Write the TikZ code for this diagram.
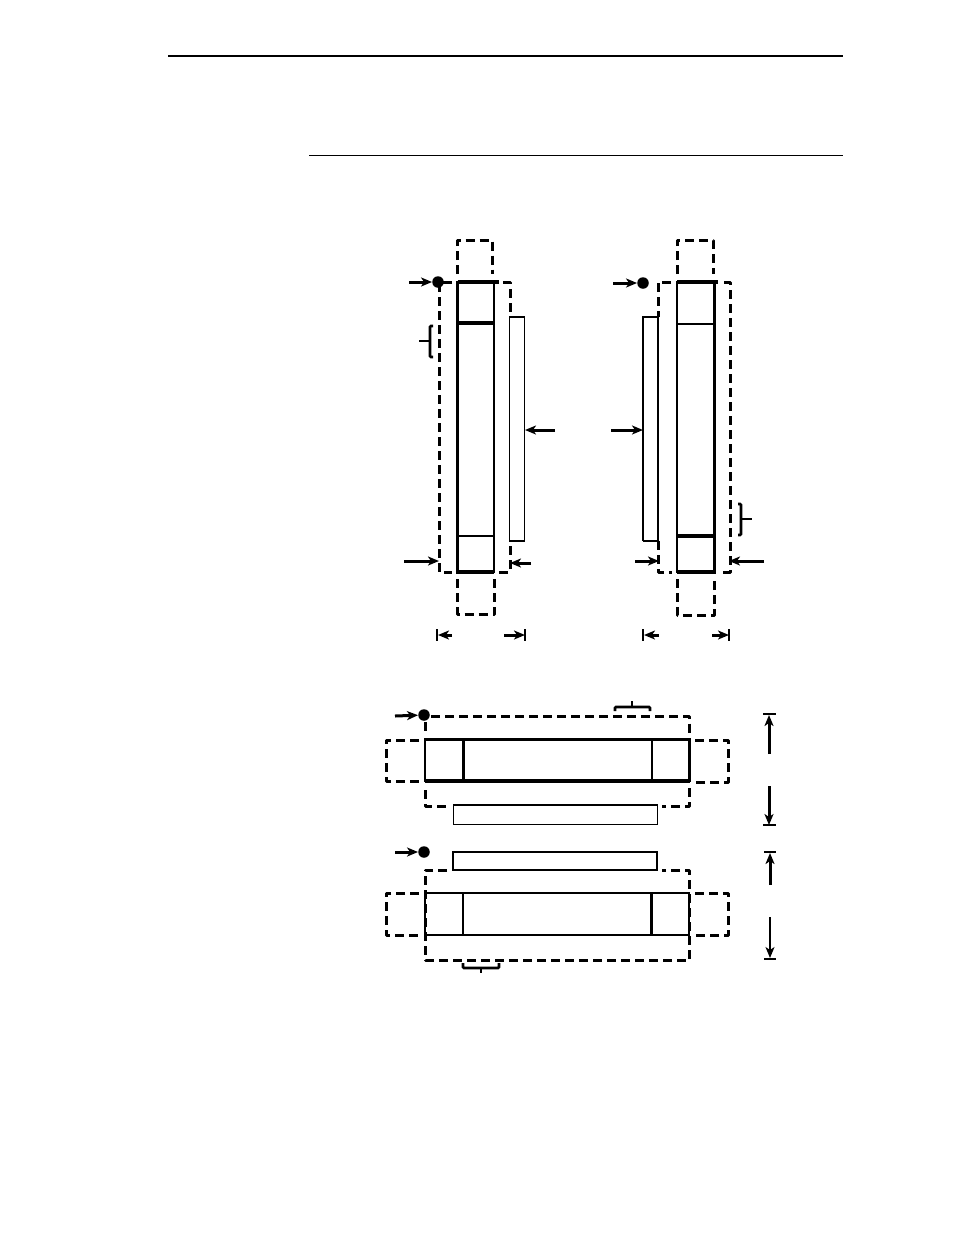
\documentclass[tikz,border=0pt]{standalone}
\usetikzlibrary{arrows.meta}
\tikzset{
  hair/.style={line width=1.3pt},
  med/.style={line width=2.5pt},
  heavy/.style={line width=3.3pt},
  dash box/.style={line width=3pt,dash pattern=on 9pt off 5pt,line join=round},
  callout/.style={line width=3pt,-{Stealth[length=11pt,width=9pt,inset=3pt]}},
  datum/.style={circle,fill=black,inner sep=0pt,minimum size=11.5pt},
  brace line/.style={line width=2.6pt,rounded corners=1pt},
}
\begin{document}
\begin{tikzpicture}[x=1pt,y=-1pt]
\useasboundingbox (0,0) rectangle (954,1235);
\fill[white] (0,0) rectangle (954,1235);
% header rules
\draw[line width=2pt] (168,56) -- (843,56);
\draw[line width=1pt] (309,155.5) -- (842.5,155.5);

% ---------- upper left figure ----------
\draw[dash box] (457.5,274) -- (457.5,240) -- (492,240) -- (492,274);
\draw[dash box] (457.5,579) -- (457.5,614) -- (494,614) -- (494,579);
\draw[dash box] (452,282) -- (439,282) -- (439,572) -- (452,572);
\draw[dash box] (503,282) -- (510,282) -- (510,317);
\draw[dash box] (510,546) -- (510,572) -- (499,572);
\draw[hair] (509.5,317) rectangle (524.5,541);
\draw[heavy] (457.5,280.5) -- (457.5,573.5);
\draw[med] (494,281) -- (494,573);
\draw[heavy] (457.5,282) -- (499,282);
\draw[heavy] (457.5,572) -- (494,572);
\draw[heavy] (457.5,323) -- (494,323);
\draw[med] (457.5,536) -- (494,536);
\node[datum] (dotA) at (438,282) {};
\coordinate (a1) at (409,282);
\draw[callout] (a1) -- (dotA);
\draw[brace line] (419,341) -- (430,341);
\draw[brace line] (433,326) -- (430,326) -- (430,357) -- (433,357);
\coordinate (a2s) at (555,430); \coordinate (a2e) at (525,430);
\draw[callout] (a2s) -- (a2e);
\coordinate (a3s) at (404,561); \coordinate (a3e) at (439,561);
\draw[callout] (a3s) -- (a3e);
\coordinate (a4s) at (531,563); \coordinate (a4e) at (510,563);
\draw[callout] (a4s) -- (a4e);
\coordinate (a5s) at (452,635); \coordinate (a5e) at (438,635);
\draw[callout] (a5s) -- (a5e);
\coordinate (a6s) at (504,635); \coordinate (a6e) at (525,635);
\draw[callout] (a6s) -- (a6e);
\draw[med] (437,629) -- (437,641);
\draw[med] (525,629) -- (525,641);

% ---------- upper right figure ----------
\draw[dash box] (677,274) -- (677,240) -- (713,240) -- (713,274);
\draw[dash box] (677,579) -- (677,615) -- (714,615) -- (714,579);
\draw[dash box] (671,282) -- (658,282) -- (658,317);
\draw[dash box] (658,541) -- (658,572) -- (672,572);
\draw[dash box] (724,282) -- (730,282) -- (730,572) -- (719,572);
\draw[med] (643,541) -- (643,317) -- (658,317);
\draw[med] (643,541) -- (658,541);
\draw[hair] (658,317) -- (658,541);
\draw[med] (677,281) -- (677,573);
\draw[heavy] (714.5,280.5) -- (714.5,573.5);
\draw[heavy] (677,282) -- (718,282);
\draw[heavy] (677,572) -- (714.5,572);
\draw[med] (677,324) -- (714.5,324);
\draw[heavy] (677,536) -- (714.5,536);
\node[datum] (dotB) at (643,283) {};
\coordinate (b1) at (613,283);
\draw[callout] (b1) -- (dotB);
\draw[brace line] (738,504) -- (741,504) -- (741,535) -- (738,535);
\draw[brace line] (741,519) -- (752,519);
\coordinate (b2s) at (611,430); \coordinate (b2e) at (643,430);
\draw[callout] (b2s) -- (b2e);
\coordinate (b3s) at (635,561); \coordinate (b3e) at (659,561);
\draw[callout] (b3s) -- (b3e);
\coordinate (b4s) at (764,561); \coordinate (b4e) at (729,561);
\draw[callout] (b4s) -- (b4e);
\coordinate (b5s) at (659,635); \coordinate (b5e) at (644,635);
\draw[callout] (b5s) -- (b5e);
\coordinate (b6s) at (712,635); \coordinate (b6e) at (729,635);
\draw[callout] (b6s) -- (b6e);
\draw[med] (643,629) -- (643,641);
\draw[med] (729,629) -- (729,641);

% ---------- middle figure ----------
\draw[dash box] (419,740) -- (386,740) -- (386,781) -- (419,781);
\draw[dash box] (695,740) -- (728,740) -- (728,782) -- (695,782);
\draw[dash box] (431,716) -- (689.5,716) -- (689.5,733);
\draw[dash box] (689.5,788) -- (689.5,806) -- (662,806);
\draw[dash box] (425,722) -- (425,733);
\draw[dash box] (425,790) -- (425,806) -- (450,806);
\draw[hair] (453.5,805) rectangle (657.5,824.5);
\draw[heavy] (425,739.5) -- (689.5,739.5);
\draw[heavy] (425,781) -- (689.5,781);
\draw[med] (425,738) -- (425,782);
\draw[heavy] (689.5,738) -- (689.5,782);
\draw[heavy] (463.5,739) -- (463.5,781);
\draw[med] (652,739) -- (652,781);
\node[datum] (dotC) at (424,715) {};
\coordinate (c1) at (395,716);
\draw[callout] (c1) -- (dotC);
\draw[brace line] (615,711) -- (615,707) -- (650,707) -- (650,711);
\draw[med] (632,701) -- (632,707);
\coordinate (c2s) at (769,754); \coordinate (c2e) at (769,715);
\draw[callout] (c2s) -- (c2e);
\coordinate (c3s) at (769,786); \coordinate (c3e) at (769,825);
\draw[callout] (c3s) -- (c3e);
\draw[med] (763,714) -- (776,714);
\draw[med] (763,825) -- (776,825);

% ---------- lower figure ----------
\draw[dash box] (419,893) -- (386,893) -- (386,935) -- (419,935);
\draw[dash box] (695,893) -- (728,893) -- (728,935) -- (695,935);
\draw[dash box] (447,870) -- (425,870) -- (425,960) -- (689.5,960) -- (689.5,870) -- (662,870);
\draw[med] (453,852) rectangle (657,870);
\draw[med] (425,893) rectangle (689,935);
\draw[med] (463,893) -- (463,935);
\draw[heavy] (651.5,893) -- (651.5,935);
\node[datum] (dotD) at (424,852) {};
\coordinate (d1) at (395,852);
\draw[callout] (d1) -- (dotD);
\draw[brace line] (463,963) -- (463,968) -- (499,968) -- (499,963);
\draw[med] (481,968) -- (481,973);
\coordinate (d2s) at (770,885); \coordinate (d2e) at (770,853);
\draw[callout] (d2s) -- (d2e);
\coordinate (d3s) at (770,917); \coordinate (d3e) at (770,958);
\draw[line width=1.5pt,-{Stealth[length=11pt,width=9pt,inset=3pt]}] (d3s) -- (d3e);
\draw[med] (764,852) -- (776,852);
\draw[med] (764,959) -- (776,959);
\end{tikzpicture}
\end{document}
